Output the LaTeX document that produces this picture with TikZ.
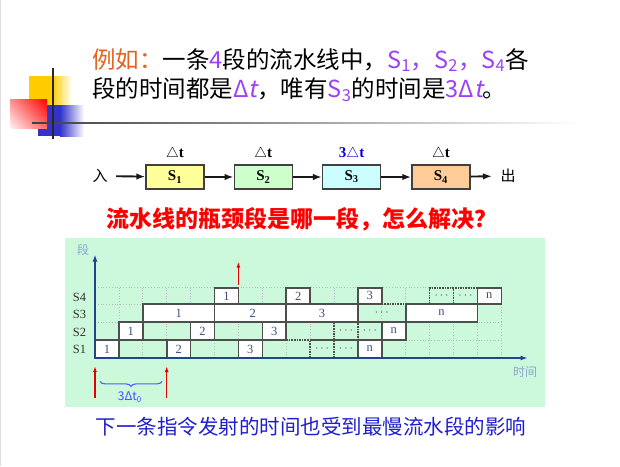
\documentclass[tikz,border=0pt]{standalone}
\usepackage{fontspec}
\setmainfont{Liberation Serif}
\newfontfamily\cjk{Noto Sans CJK SC}[ItalicFont=Noto Sans CJK SC,ItalicFeatures={FakeSlant=0.2}]
\usetikzlibrary{arrows.meta,positioning,decorations.pathreplacing,shadings}
\definecolor{titleorange}{RGB}{232,96,28}
\definecolor{titlepurple}{RGB}{155,64,245}
\definecolor{chartbg}{RGB}{204,248,220}
\definecolor{axisblue}{RGB}{30,70,140}
\definecolor{labelblue}{RGB}{140,165,205}
\definecolor{slotgray}{RGB}{78,78,78}
\definecolor{slottext}{RGB}{60,80,125}
\definecolor{notice}{RGB}{30,30,205}
\definecolor{decoyellow}{RGB}{255,204,0}
\definecolor{decoblue}{RGB}{51,51,204}
\definecolor{sonefill}{RGB}{255,255,153}
\definecolor{stwofill}{RGB}{204,255,204}
\definecolor{sthreefill}{RGB}{204,255,255}
\definecolor{sfourfill}{RGB}{255,204,153}
\tikzset{
  stage/.style={draw=black!75,line width=1.3pt,minimum width=58pt,minimum height=24pt,
                inner sep=0pt,font=\fontsize{15}{17}\selectfont\bfseries},
  pipe/.style={-{Latex[length=9pt,width=6.5pt]},line width=1.9pt,black!90},
  cost/.style={font=\fontsize{15}{17}\selectfont\bfseries,inner sep=1pt},
  gridline/.style={gray!55,dotted,line width=0.8pt},
  band/.style={slotgray,line width=1.6pt},
  gap/.style={slotgray,densely dotted,line width=1.6pt},
  slot/.style={fill=white,draw=slotgray,line width=1.6pt},
  slotlabel/.style={font=\fontsize{12.5}{14}\selectfont,text=slottext,inner sep=0pt},
  rowlabel/.style={font=\fontsize{12.5}{14}\selectfont,text=black!80,inner sep=0pt},
  chartaxis/.style={-{Latex[length=7pt,width=5pt]},axisblue,line width=1.6pt},
  redarrow/.style={-{Latex[length=6pt,width=4pt]},red!90!black,line width=1.5pt},
}

\begin{document}
\begin{tikzpicture}[x=1pt,y=-1pt]
  \useasboundingbox (0,0) rectangle (620,466);
  \draw[gray!25,line width=1pt] (0.5,0) -- (0.5,466);

  % ---------- UKRAS ----------
  \fill[decoyellow] (29,76) rectangle (52,105);
  \shade[left color=decoyellow,right color=white] (52,76) rectangle (72,105);
  \fill[decoblue] (38,105) rectangle (60,136);
  \shade[left color=decoblue,right color=white] (60,105) rectangle (84,136);
  \shade[upper left=red!45,upper right=red,lower left=red!5,lower right=red!60]
        (10,99) rectangle (47,128);
  \shade[left color=black!75,right color=white] (32,122.3) rectangle (580,123.8);
  \draw[line width=2.5pt,black!85] (53,68) -- (53,139);

  % ---------- NASLOV ----------
  \node[anchor=west,inner sep=0pt,font=\cjk\fontsize{23.5}{28}\selectfont] (line1) at (92,60)
       {\textcolor{titleorange}{例如：}一条\textcolor{titlepurple}{4}段的流水线中，\textcolor{titlepurple}{S\textsubscript{1}，S\textsubscript{2}，S\textsubscript{4}}各};
  \node[anchor=west,inner sep=0pt,font=\cjk\fontsize{23.5}{28}\selectfont] (line2) at (92,90)
       {段的时间都是\textcolor{titlepurple}{Δ\textit{t}}，唯有\textcolor{titlepurple}{S\textsubscript{3}}的时间是\textcolor{titlepurple}{3Δ\textit{t}}。};

  % ---------- PROTOČNA TRAKA ----------
  \node[font=\cjk\fontsize{15}{17}\selectfont] (in) at (100,176) {入};
  \node[stage,fill=sonefill] (s1) at (175,177) {S\textsubscript{1}};
  \node[stage,fill=stwofill,right=29pt of s1] (s2) {S\textsubscript{2}};
  \node[stage,fill=sthreefill,right=29pt of s2] (s3) {S\textsubscript{3}};
  \node[stage,fill=sfourfill,right=30pt of s3] (s4) {S\textsubscript{4}};
  \node[font=\cjk\fontsize{15}{17}\selectfont] (out) at (508,176) {出};

  \node[cost,above=3pt of s1] (c1) {$\triangle$t};
  \node[cost,above=3pt of s2] (c2) {$\triangle$t};
  \node[cost,above=3pt of s3,text=blue!85!black] (c3) {3$\triangle$t};
  \node[cost,above=3pt of s4] (c4) {$\triangle$t};

  \draw[pipe,shorten <=5pt] (in) -- (s1);
  \draw[pipe] (s1) -- (s2);
  \draw[pipe] (s2) -- (s3);
  \draw[pipe] (s3) -- (s4);
  \draw[pipe,shorten >=5pt] (s4) -- (out);

  \node[font=\cjk\bfseries\fontsize{23}{26}\selectfont,text=red] (ask) at (302,219)
       {流水线的瓶颈段是哪一段，怎么解决？};

  % ---------- VREMENSKI DIJAGRAM ----------
  \fill[chartbg] (65,238) rectangle (545,407);
  \begin{scope}[xshift=95pt,yshift=-358pt,x=23.9pt,y=18pt]
    \foreach \k in {0,...,17} \draw[gridline] (\k,0) -- (\k,3.9);
    \foreach \r in {1,2,3,3.9} \draw[gridline] (0,\r) -- (17,\r);

    % granice segmenata
    \draw[band] (0,1) -- (8,1);
    \draw[gap]  (8,1) -- (9,1);
    \draw[band] (9,1) -- (13,1);
    \draw[band] (1,2) -- (16,2);
    \draw[band] (2,3) -- (12,3);
    \draw[gap]  (12,3) -- (13,3);
    \draw[band] (13,3) -- (16,3);

    \draw[gap] (9,0) -- (9,1);
    \draw[gap] (10,0) -- (10,1);
    \draw[gap] (10,1) -- (11,1) -- (11,2);
    \draw[gap] (10,1) -- (10,2);
    \draw[gap] (14,3) -- (14,3.9) -- (16,3.9);
    \draw[gap] (15,3) -- (15,3.9);

    % S1
    \draw[slot] (0,0) rectangle (1,1);   \node[slotlabel] (a1) at (0.5,0.5) {1};
    \draw[slot] (3,0) rectangle (4,1);   \node[slotlabel] (a2) at (3.5,0.5) {2};
    \draw[slot] (6,0) rectangle (7,1);   \node[slotlabel] (a3) at (6.5,0.5) {3};
    \node[slotlabel] (a4) at (9.5,0.5) {$\cdots$};
    \node[slotlabel] (a5) at (10.5,0.5) {$\cdots$};
    \draw[slot] (11,0) rectangle (12,1); \node[slotlabel] (an) at (11.5,0.5) {n};
    % S2
    \draw[slot] (1,1) rectangle (2,2);   \node[slotlabel] (b1) at (1.5,1.5) {1};
    \draw[slot] (4,1) rectangle (5,2);   \node[slotlabel] (b2) at (4.5,1.5) {2};
    \draw[slot] (7,1) rectangle (8,2);   \node[slotlabel] (b3) at (7.5,1.5) {3};
    \node[slotlabel] (b4) at (10.5,1.5) {$\cdots$};
    \node[slotlabel] (b5) at (11.5,1.5) {$\cdots$};
    \draw[slot] (12,1) rectangle (13,2); \node[slotlabel] (bn) at (12.5,1.5) {n};
    % S3
    \draw[slot] (2,2) rectangle (5,3);   \node[slotlabel] (d1) at (3.5,2.5) {1};
    \draw[slot] (5,2) rectangle (8,3);   \node[slotlabel] (d2) at (6.6,2.5) {2};
    \draw[slot] (8,2) rectangle (11,3);  \node[slotlabel] (d3) at (9.5,2.5) {3};
    \node[slotlabel] (d4) at (12,2.5) {$\cdots$};
    \draw[slot] (13,2) rectangle (16,3); \node[slotlabel] (dn) at (14.5,2.5) {n};
    % S4
    \draw[slot] (5,3) rectangle (6,3.9);   \node[slotlabel] (e1) at (5.5,3.45) {1};
    \draw[slot] (8,3) rectangle (9,3.9);   \node[slotlabel] (e2) at (8.5,3.45) {2};
    \draw[slot] (11,3) rectangle (12,3.9); \node[slotlabel] (e3) at (11.5,3.45) {3};
    \node[slotlabel] (e4) at (14.5,3.45) {$\cdots$};
    \node[slotlabel] (e5) at (15.5,3.45) {$\cdots$};
    \draw[slot] (16,3) rectangle (17,3.9); \node[slotlabel] (en) at (16.5,3.45) {n};

    % ose
    \coordinate (origin) at (0,0);
    \coordinate (ytop) at (0,5.75);
    \coordinate (xend) at (18.1,0);
    \draw[chartaxis] (origin) -- (ytop);
    \draw[chartaxis] (origin) -- (xend);
    \node[text=labelblue,font=\cjk\fontsize{12}{13}\selectfont] (ylab) at (-0.5,6.0) {段};
    \node[text=labelblue,font=\cjk\fontsize{12}{13}\selectfont] (xlab) at (18,-0.8) {时间};

    \node[rowlabel] (r1) at (-0.65,0.45) {S1};
    \node[rowlabel] (r2) at (-0.65,1.4) {S2};
    \node[rowlabel] (r3) at (-0.65,2.4) {S3};
    \node[rowlabel] (r4) at (-0.65,3.35) {S4};

    % crvene strelice
    \coordinate (t0) at (0,-2.2);  \coordinate (t0up) at (0,-0.45);
    \coordinate (t3) at (3,-2.2);  \coordinate (t3up) at (3,-0.45);
    \coordinate (t6) at (6,4.05);  \coordinate (t6up) at (6,5.35);
    \draw[redarrow] (t0) -- (t0up);
    \draw[redarrow] (t3) -- (t3up);
    \draw[redarrow] (t6) -- (t6up);

    \coordinate (bl) at (0.21,-1.3);
    \coordinate (br) at (2.8,-1.3);
    \draw[blue!65,line width=1.1pt,decorate,decoration={brace,mirror,amplitude=5pt}] (bl) -- (br);
    \node[text=blue!70,font=\cjk\fontsize{12}{13}\selectfont] (tlab) at (1.46,-2.17) {3Δt\textsubscript{0}};
  \end{scope}

  % ---------- NAPOMENA ----------
  \node[font=\cjk\fontsize{20.5}{24}\selectfont,text=notice] (note) at (311,427)
       {下一条指令发射的时间也受到最慢流水段的影响};
\end{tikzpicture}
\end{document}
